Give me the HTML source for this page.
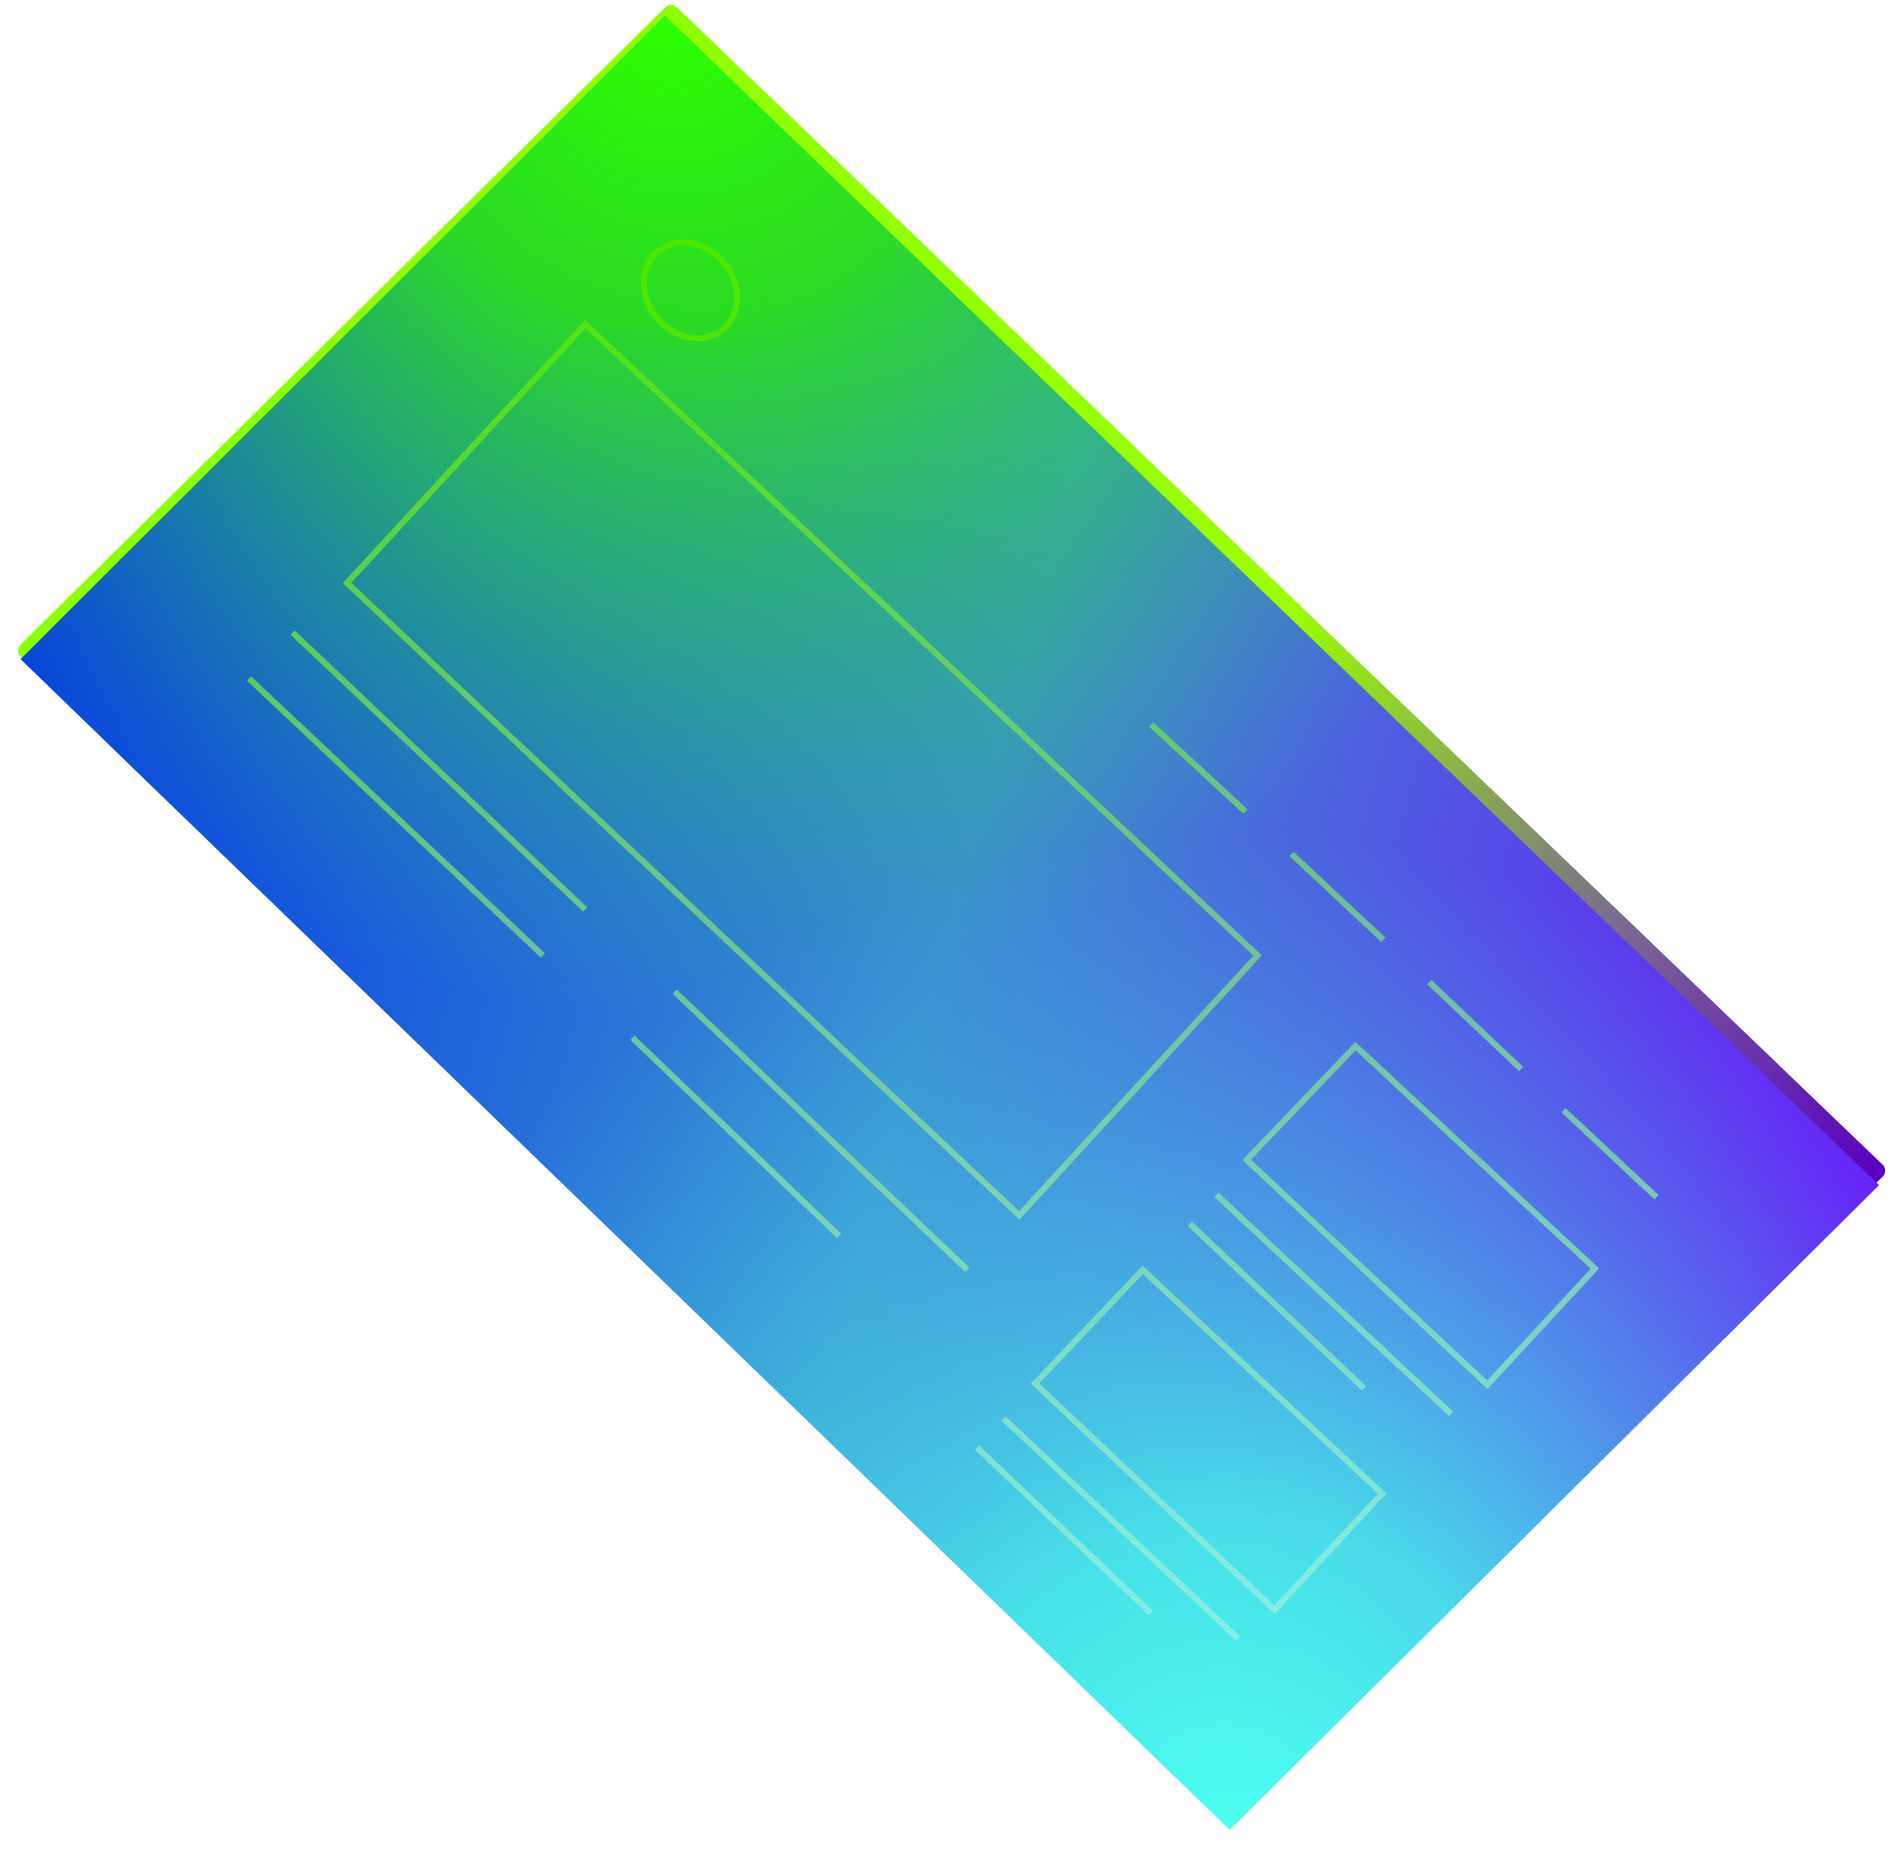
<!DOCTYPE html>
<html>
<head>
<meta charset="utf-8">
<style>
html,body{margin:0;padding:0;background:#fff;}
svg{display:block;}
</style>
</head>
<body>
<svg width="1896" height="1854" viewBox="0 0 1568 1533" xmlns="http://www.w3.org/2000/svg">
<defs>
  <linearGradient id="backG" x1="300" y1="200" x2="1552" y2="975" gradientUnits="userSpaceOnUse">
    <stop offset="0" stop-color="#8cff00"/>
    <stop offset="0.55" stop-color="#9cff00"/>
    <stop offset="0.8" stop-color="#7a6a90"/>
    <stop offset="1" stop-color="#5a00c0"/>
  </linearGradient>
  <linearGradient id="baseG" x1="22" y1="545" x2="1552" y2="975" gradientUnits="userSpaceOnUse">
    <stop offset="0" stop-color="#0336e6"/>
    <stop offset="0.5" stop-color="#3a8ed0"/>
    <stop offset="1" stop-color="#6c10fa"/>
  </linearGradient>
  <radialGradient id="greenG" cx="555" cy="18" r="820" gradientUnits="userSpaceOnUse">
    <stop offset="0" stop-color="#2cff00" stop-opacity="1"/>
    <stop offset="0.3" stop-color="#2ce810" stop-opacity="0.9"/>
    <stop offset="1" stop-color="#30c080" stop-opacity="0"/>
  </radialGradient>
  <radialGradient id="cyanG" cx="1017" cy="1508" r="820" gradientUnits="userSpaceOnUse">
    <stop offset="0" stop-color="#4dfff0" stop-opacity="1"/>
    <stop offset="0.3" stop-color="#48eeea" stop-opacity="0.9"/>
    <stop offset="1" stop-color="#40b8e0" stop-opacity="0"/>
  </radialGradient>
  <linearGradient id="strokeG" x1="0" y1="200" x2="0" y2="1360" gradientUnits="userSpaceOnUse">
    <stop offset="0" stop-color="#55e800"/>
    <stop offset="0.5" stop-color="#7ad090"/>
    <stop offset="1" stop-color="#90f0e8"/>
  </linearGradient>
</defs>
<g>
  <path d="M555,11 L1552,968 L1017,1500 L22,538 Z" fill="url(#backG)" stroke="url(#backG)" stroke-width="14" stroke-linejoin="round"/>
</g>
<g>
  <path d="M550,13 L1554,980 L1017,1513 L17,545 Z" fill="url(#baseG)"/>
  <path d="M550,13 L1554,980 L1017,1513 L17,545 Z" fill="url(#greenG)"/>
  <path d="M550,13 L1554,980 L1017,1513 L17,545 Z" fill="url(#cyanG)"/>
</g>
<g fill="none" stroke="url(#strokeG)" stroke-width="5" opacity="0.85">
  <ellipse cx="571" cy="240" rx="36" ry="42" transform="rotate(-40 571 240)" stroke="#55e800"/>
  <polygon points="484,268 287,482 843,1005 1040,790"/>
  <line x1="242" y1="523" x2="484" y2="752"/>
  <line x1="206" y1="561" x2="449" y2="790"/>
  <line x1="558" y1="820" x2="800" y2="1050"/>
  <line x1="523" y1="858" x2="694" y2="1022"/>
  <line x1="952" y1="599" x2="1030" y2="671"/>
  <line x1="1068" y1="706" x2="1144" y2="777"/>
  <line x1="1182" y1="812" x2="1258" y2="884"/>
  <line x1="1293" y1="918" x2="1370" y2="990"/>
  <polygon points="1121,865 1031,959 1230,1145 1319,1049"/>
  <line x1="1006" y1="988" x2="1200" y2="1169"/>
  <line x1="984" y1="1012" x2="1128" y2="1148"/>
  <polygon points="945,1050 856,1144 1054,1331 1143,1235"/>
  <line x1="830" y1="1173" x2="1024" y2="1355"/>
  <line x1="808" y1="1197" x2="952" y2="1334"/>
</g>
</svg>
</body>
</html>
